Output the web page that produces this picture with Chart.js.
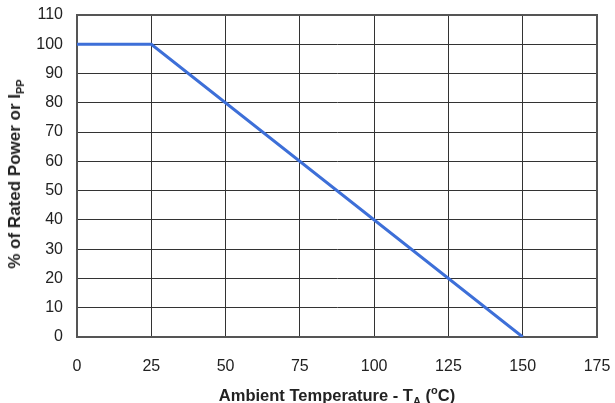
<!DOCTYPE html>
<html>
<head>
<meta charset="utf-8">
<script src="https://cdn.jsdelivr.net/npm/chart.js@4/dist/chart.umd.min.js"></script>
<style>
  html, body { margin: 0; padding: 0; background: #fff; }
  #wrap { position: relative; width: 615px; height: 403px; }
  canvas { display: block; }
  .ttl { position: absolute; font-family: "Liberation Sans", Arial, sans-serif; font-weight: bold; color: #222; white-space: nowrap; }
  #xt { left: 337px; top: 395px; font-size: 16.5px; transform: translate(-50%, -50%); }
  #yt { left: 15px; top: 174px; font-size: 17px; transform: translate(-50%, -50%) rotate(-90deg); }
  sub, sup { font-size: 11px; line-height: 0; }
</style>
</head>
<body>
<div id="wrap">
  <canvas id="c" width="615" height="403"></canvas>
  <div class="ttl" id="xt">Ambient Temperature - T<sub>A</sub> (<sup>o</sup>C)</div>
  <div class="ttl" id="yt">% of Rated Power or I<sub>PP</sub></div>
</div>
<script>
const temperatures = [0, 25, 150];
const percentRated = [100, 100, 0];
const xTicks = [0, 25, 50, 75, 100, 125, 150, 175];
const yTicks = [0, 10, 20, 30, 40, 50, 60, 70, 80, 90, 100, 110];

const points = temperatures.map((t, i) => ({ x: t, y: percentRated[i] }));

function zeroPad(s) { s.paddingLeft = 0; s.paddingRight = 0; s.paddingTop = 0; s.paddingBottom = 0; }

new Chart(document.getElementById('c'), {
  type: 'scatter',
  data: {
    datasets: [{
      data: points,
      showLine: true,
      borderColor: '#3d6fd8',
      borderWidth: 3,
      pointRadius: 0,
      fill: false,
      tension: 0
    }]
  },
  options: {
    responsive: false,
    animation: false,
    layout: { padding: { top: 15, right: 18, left: 0, bottom: 0 } },
    plugins: { legend: { display: false }, tooltip: { enabled: false } },
    scales: {
      x: {
        type: 'linear',
        min: xTicks[0], max: xTicks[xTicks.length - 1],
        afterBuildTicks: s => { s.ticks = xTicks.map(v => ({ value: v })); },
        afterFit: s => { s.height = 66; zeroPad(s); },
        grid: { color: '#333', lineWidth: 1, drawTicks: false },
        border: { color: '#555', width: 2 },
        ticks: { padding: 20, color: '#222', font: { family: 'Liberation Sans', size: 16 }, maxRotation: 0 }
      },
      y: {
        type: 'linear',
        min: yTicks[0], max: yTicks[yTicks.length - 1],
        afterBuildTicks: s => { s.ticks = yTicks.map(v => ({ value: v })); },
        afterFit: s => { s.width = 77; zeroPad(s); },
        grid: { color: '#333', lineWidth: 1, drawTicks: false },
        border: { color: '#555', width: 2 },
        ticks: { padding: 14, color: '#222', font: { family: 'Liberation Sans', size: 16 } }
      }
    }
  },
  plugins: [{
    id: 'rightTopBorder',
    afterDraw(chart) {
      const { ctx, chartArea: a } = chart;
      ctx.save();
      ctx.strokeStyle = '#555';
      ctx.lineWidth = 2;
      ctx.beginPath();
      ctx.moveTo(a.left, a.top);
      ctx.lineTo(a.right, a.top);
      ctx.lineTo(a.right, a.bottom);
      ctx.stroke();
      ctx.restore();
    }
  }]
});
</script>
</body>
</html>
